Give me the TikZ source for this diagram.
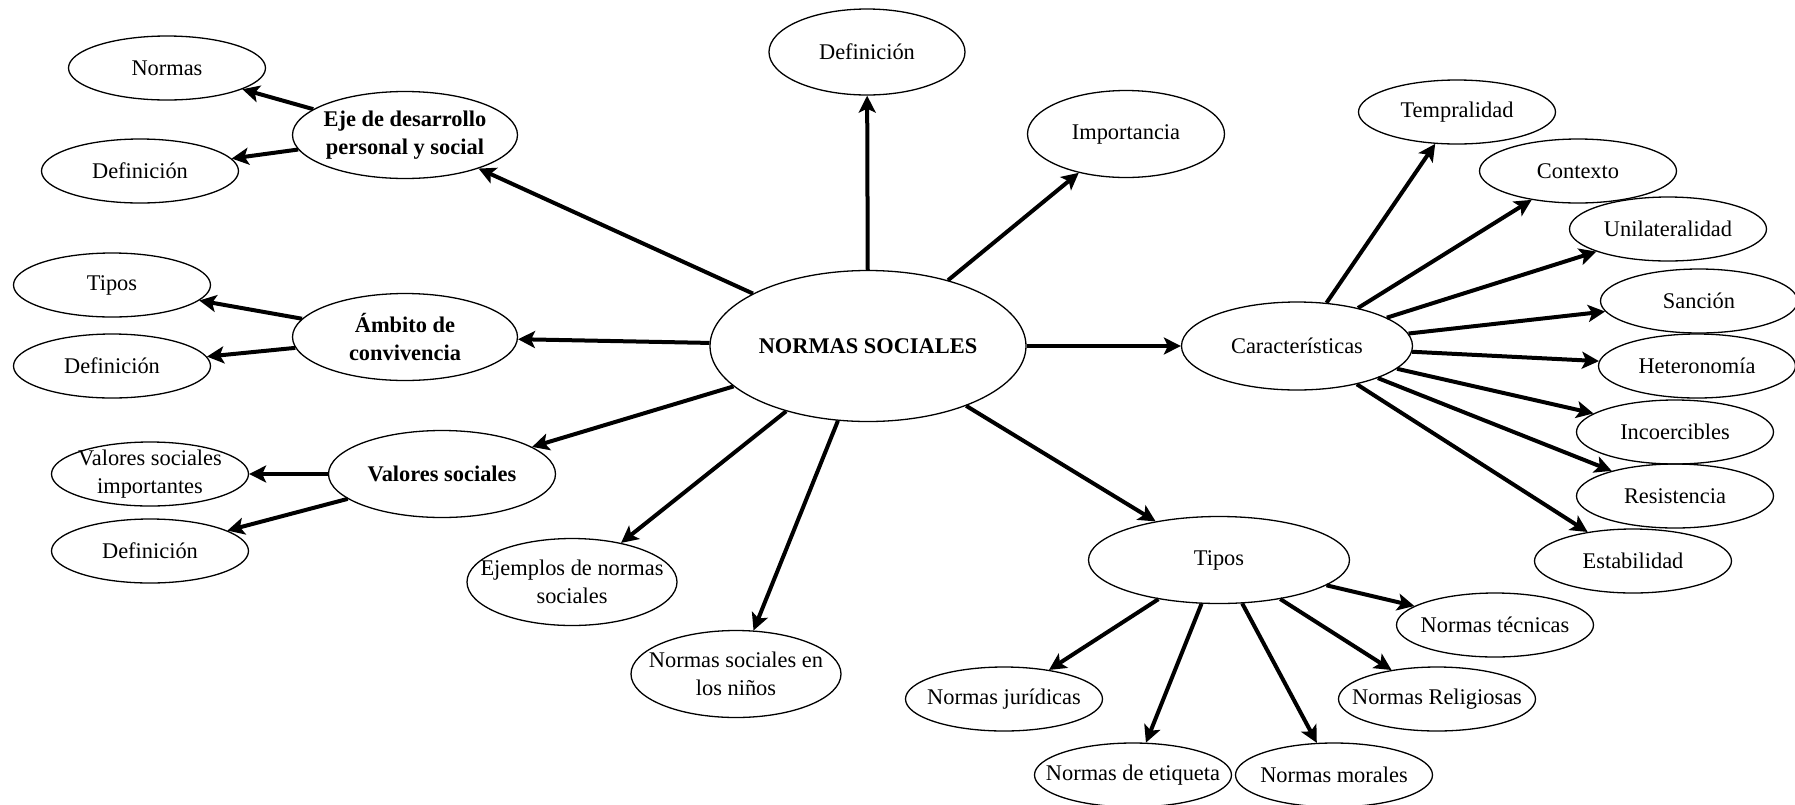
\documentclass[tikz,border=0pt]{standalone}
\usepackage{fontspec}
\setmainfont{Liberation Serif}
\usetikzlibrary{shapes.geometric,arrows.meta}
\tikzset{
  bub/.style={ellipse, draw, line width=0.65pt, inner xsep=-20pt, inner ysep=-10pt,
              align=center, font=\fontsize{11.2}{14}\selectfont},
  sm/.style={bub, minimum width=98.5pt, minimum height=32pt},
  md/.style={bub, minimum width=112.5pt, minimum height=43.5pt},
  arr/.style={-{Stealth[length=8.5pt,width=8.5pt,inset=2pt]}, line width=2pt},
}
\begin{document}
\begin{tikzpicture}[x=0.5pt,y=-0.5pt]
\useasboundingbox (0,0) rectangle (1795,804);
% central concept
\node[bub, minimum width=158pt, minimum height=75.5pt] (ns) at (868,346) {\bfseries NORMAS SOCIALES};
\node[bub, minimum width=98pt, minimum height=43pt] (defT) at (867,52) {Definición};
\node[bub, minimum width=98.5pt, minimum height=43.5pt] (imp) at (1126,134) {Importancia};
% left branches
\node[md] (eje) at (405,135) {\bfseries Eje de desarrollo\\\bfseries personal y social};
\node[sm] (normas) at (167,68) {Normas};
\node[sm] (defE) at (140,171) {Definición};
\node[md] (amb) at (405,337) {\bfseries Ámbito de\\\bfseries convivencia};
\node[sm] (tiposL) at (112,285) {Tipos};
\node[sm] (defA) at (112,366) {Definición};
\node[md, minimum width=113.5pt] (val) at (442,474) {\bfseries Valores sociales};
\node[sm] (vsi) at (150,474) {Valores sociales\\importantes};
\node[sm] (defV) at (150,551) {Definición};
% lower branches
\node[md, minimum width=105pt] (ejem) at (572,582) {Ejemplos de normas\\sociales};
\node[md, minimum width=105pt] (ninos) at (736,674) {Normas sociales en\\los niños};
% characteristics
\node[md, minimum width=115.5pt, minimum height=44pt] (car) at (1297,346) {Características};
\node[sm] (temp) at (1457,112) {Tempralidad};
\node[sm] (cont) at (1578,171) {Contexto};
\node[sm] (unil) at (1668,229) {Unilateralidad};
\node[sm] (sanc) at (1699,301) {Sanción};
\node[sm] (het) at (1697,366) {Heteronomía};
\node[sm] (inco) at (1675,432) {Incoercibles};
\node[sm] (resi) at (1675,496) {Resistencia};
\node[sm] (esta) at (1633,561) {Estabilidad};
% types
\node[md, minimum width=130.5pt] (tiposR) at (1219,560) {Tipos};
\node[sm] (tec) at (1495,625) {Normas técnicas};
\node[sm] (rel) at (1437,699) {Normas Religiosas};
\node[sm] (mor) at (1334,775) {Normas morales};
\node[sm] (eti) at (1133,775) {Normas de etiqueta};
\node[sm] (jur) at (1004,699) {Normas jurídicas};
% connectors
\foreach \t in {defT,imp,eje,amb,val,ejem,ninos,car,tiposR}
  \draw[arr] (ns) -- (\t);
\draw[arr] (eje) -- (normas);
\draw[arr] (eje) -- (defE);
\draw[arr] (amb) -- (tiposL);
\draw[arr] (amb) -- (defA);
\draw[arr] (val) -- (vsi);
\draw[arr] (val) -- (defV);
\foreach \t in {temp,cont,unil,sanc,het,inco,resi,esta}
  \draw[arr] (car) -- (\t);
\foreach \t in {tec,rel,mor,eti,jur}
  \draw[arr] (tiposR) -- (\t);
\end{tikzpicture}
\end{document}
